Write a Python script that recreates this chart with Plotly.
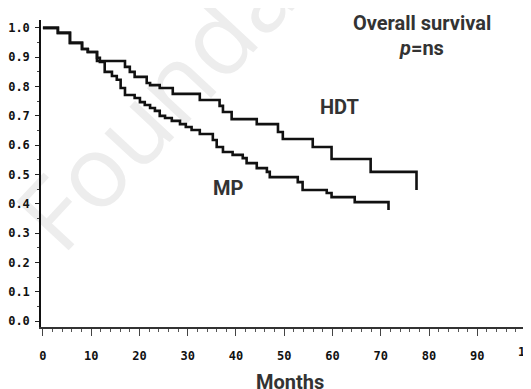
import plotly.graph_objects as go

# Kaplan-Meier step data (months, survival proportion)
hdt_months = [0, 3.1, 5.6, 8.1, 9.3, 11.2, 17.0, 18.0, 19.0, 21.5, 22.2, 24.2, 26.9,
              32.5, 36.6, 37.3, 39.1, 44.3, 48.7, 49.7, 55.9, 59.8, 67.9, 77.4]
hdt_surv = [1.0, 0.983, 0.949, 0.928, 0.918, 0.887, 0.867, 0.850, 0.833, 0.812, 0.805, 0.795, 0.775,
            0.754, 0.734, 0.713, 0.689, 0.672, 0.645, 0.621, 0.594, 0.553, 0.509, 0.447]

mp_months = [0, 3.1, 5.6, 8.1, 9.3, 11.2, 11.8, 12.8, 14.3, 15.3, 16.1, 17.0, 19.0, 20.1, 21.1,
             22.2, 23.2, 24.2, 25.3, 26.7, 28.4, 29.6, 30.8, 32.5, 35.2, 36.0, 37.3, 39.3, 41.4,
             42.2, 44.3, 46.4, 47.0, 52.8, 53.8, 58.8, 59.8, 64.6, 71.6]
mp_surv = [1.0, 0.983, 0.949, 0.928, 0.918, 0.898, 0.884, 0.850, 0.836, 0.823, 0.795, 0.771, 0.761,
           0.747, 0.737, 0.727, 0.717, 0.700, 0.693, 0.683, 0.672, 0.662, 0.652, 0.638, 0.618,
           0.594, 0.577, 0.567, 0.556, 0.539, 0.522, 0.509, 0.491, 0.474, 0.447, 0.437, 0.423,
           0.406, 0.379]

x_ticks = [0, 10, 20, 30, 40, 50, 60, 70, 80, 90, 100]
y_ticks = [0.0, 0.1, 0.2, 0.3, 0.4, 0.5, 0.6, 0.7, 0.8, 0.9, 1.0]

fig = go.Figure()
for xs, ys, name in [(hdt_months, hdt_surv, "HDT"), (mp_months, mp_surv, "MP")]:
    fig.add_trace(go.Scatter(x=xs, y=ys, mode="lines", name=name,
                             line=dict(color="#111111", width=2.6, shape="hv"),
                             showlegend=False, hoverinfo="skip"))

txt = dict(family="Roboto", size=20, color="#333333", weight="bold")
ann = [
    dict(text="Overall survival", x=0.782, y=0.99),
    dict(text="<i>p</i>=ns", x=0.782, y=0.909),
    dict(text="HDT", x=0.612, y=0.717),
    dict(text="MP", x=0.384, y=0.453),
    dict(text="Months", x=0.511, y=-0.179),
]
annotations = [dict(xref="paper", yref="paper", showarrow=False, font=txt,
                    xanchor="center", yanchor="middle", **a) for a in ann]

tickfont = dict(family="DejaVu Sans Mono", size=12, color="#111111", weight="bold")

# the last tick label (100) sits past the right edge; draw it as an axis-anchored annotation
annotations.append(dict(xref="x", yref="paper", x=x_ticks[-1], y=-0.081, text=str(x_ticks[-1]),
                        showarrow=False, font=tickfont, xanchor="left", xshift=-10,
                        yanchor="middle"))
ticktext = [str(v) for v in x_ticks[:-1]] + [""]

# the page body has an 8px margin, so the figure is 8px smaller and margins are reduced
fig.update_layout(
    width=523, height=381,
    margin=dict(l=33, r=3, t=12, b=62),
    paper_bgcolor="white", plot_bgcolor="rgba(0,0,0,0)",
    annotations=annotations,
    shapes=[dict(type="line", xref="paper", yref="paper", x0=0.451, y0=0.802, x1=0.491, y1=0.742,
                 layer="below", line=dict(width=0, color="rgba(0,0,0,0)"),
                 label=dict(text="Foundation", textangle=-47, textposition="middle",
                            font=dict(family="Open Sans", size=100, color="#ededed")))],
    xaxis=dict(range=[-0.4, 100.5], tickvals=x_ticks, ticktext=ticktext,
               showgrid=False, zeroline=False, showline=True, linecolor="#333333", linewidth=1.5,
               ticks="outside", ticklen=7, tickwidth=1.2, tickcolor="#444444",
               minor=dict(dtick=2, ticks="outside", ticklen=3, tickcolor="#555555"),
               tickfont=tickfont, ticklabelstandoff=10, automargin=False),
    yaxis=dict(range=[-0.02, 1.027], tickvals=y_ticks, ticktext=[f"{v:.1f}" for v in y_ticks],
               showgrid=False, zeroline=False, showline=True, linecolor="#111111", linewidth=1.5,
               ticks="outside", ticklen=4, tickwidth=1.2, tickcolor="#222222",
               minor=dict(dtick=0.05, ticks="outside", ticklen=2, tickcolor="#444444"),
               tickfont=tickfont, ticklabelstandoff=3, automargin=False),
)

fig.write_html("out.html")
